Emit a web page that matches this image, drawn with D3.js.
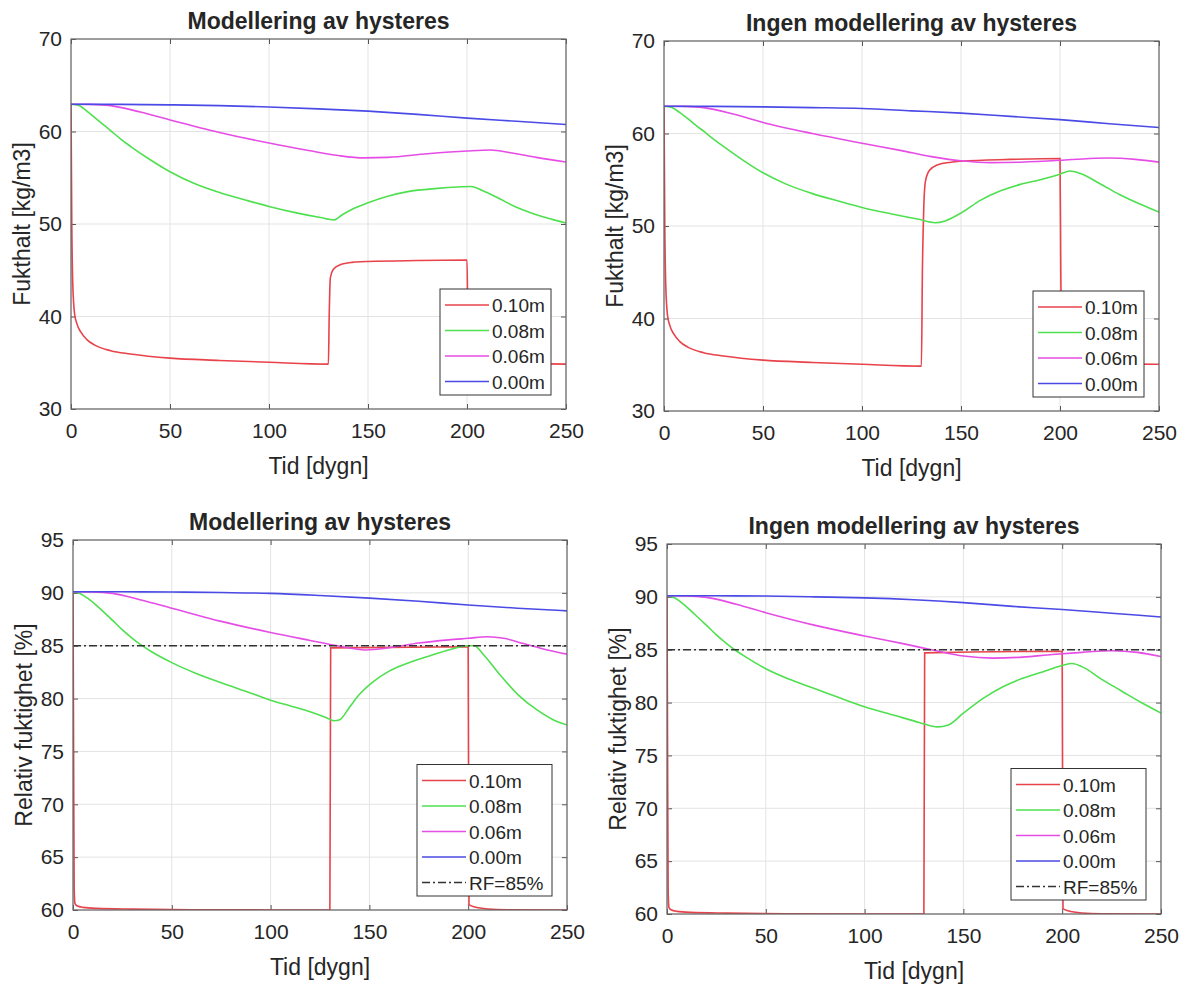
<!DOCTYPE html>
<html>
<head>
<meta charset="utf-8">
<script src="https://cdn.jsdelivr.net/npm/d3@7"></script>
<style>
  body { margin: 0; background: #fff; }
  svg text { font-family: "Liberation Sans", Arial, sans-serif; fill: #262626; }
</style>
</head>
<body>
<svg id="chart" width="1185" height="985"></svg>
<script>

// x ticks (days) and y ticks
const dayTicks = [0, 50, 100, 150, 200, 250]
const fuktTicks = [30, 40, 50, 60, 70]
const rfTicks = [60, 65, 70, 75, 80, 85, 90, 95]

const seriesNames = ["0.10m", "0.08m", "0.06m", "0.00m"]
const seriesColors = ["#e8434a", "#4fe04f", "#e64ce6", "#4a4ae6"]
const rfLimit = 85
const rfName = "RF=85%"

// Fukthalt, modellering av hysteres  [dygn, kg/m3]
const fuktHystRed = [[0,63],[0.4,50],[0.9,43.5],[1.8,40.3],[3,39.2],[5,38.3],[8,37.5],[12,36.9],[20,36.3],[30,35.95],[50,35.5],[75,35.25],[100,35.05],[130,34.85],[130.4,40],[131,44.2],[132.5,45.1],[136,45.6],[142,45.85],[150,45.95],[175,46.05],[200,46.1],[200.4,40],[201,36.5],[204,35.4],[215,35.0],[250,34.85]]
const fuktHystGreen = [[0,62.95],[4,62.8],[8,62.2],[12,61.5],[16,60.8],[20,60.1],[25,59.2],[30,58.4],[40,56.95],[50,55.65],[62,54.4],[75,53.4],[88,52.6],[100,51.9],[115,51.15],[126,50.7],[133,50.45],[137,51.0],[142,51.6],[150,52.3],[160,53.0],[170,53.5],[185,53.85],[195,54.0],[202,54.05],[208,53.6],[215,52.9],[225,51.8],[235,51.0],[243,50.5],[250,50.1]]
const fuktHystMagenta = [[0,62.95],[10,62.93],[20,62.8],[35,62.1],[50,61.25],[75,59.9],[100,58.75],[120,57.95],[135,57.4],[148,57.15],[160,57.2],[180,57.6],[200,57.9],[212,58.0],[222,57.7],[235,57.2],[250,56.7]]
const fuktHystBlue = [[0,62.95],[25,62.93],[50,62.88],[75,62.8],[100,62.65],[125,62.45],[150,62.2],[175,61.85],[200,61.45],[225,61.1],[250,60.75]]

// Fukthalt, ingen modellering av hysteres
const fuktNoRed = [[0,63],[0.4,50],[0.9,43.5],[1.8,40.3],[3,39.2],[5,38.3],[8,37.5],[12,36.9],[20,36.3],[30,35.95],[50,35.5],[75,35.25],[100,35.05],[130,34.85],[130.5,45],[131.2,52],[132,54.8],[134,56.0],[138,56.6],[145,56.9],[150,57.0],[175,57.2],[200,57.3],[200.4,45],[201,37],[204,35.5],[215,35.15],[250,35.05]]
const fuktNoGreen = [[0,62.95],[4,62.8],[8,62.25],[12,61.6],[16,60.9],[20,60.25],[25,59.4],[30,58.6],[40,57.1],[50,55.75],[62,54.5],[75,53.5],[88,52.7],[100,52.0],[115,51.3],[128,50.75],[137,50.35],[142,50.55],[150,51.4],[160,52.8],[170,53.8],[180,54.5],[190,55.0],[200,55.6],[205,55.95],[210,55.7],[220,54.6],[230,53.4],[240,52.4],[250,51.5]]
const fuktNoMagenta = [[0,62.95],[10,62.93],[20,62.8],[35,62.1],[50,61.2],[75,60.0],[100,58.95],[120,58.15],[135,57.5],[150,57.05],[165,56.85],[180,56.9],[200,57.1],[215,57.3],[225,57.35],[238,57.2],[250,56.9]]
const fuktNoBlue = [[0,62.95],[25,62.93],[50,62.88],[75,62.8],[100,62.7],[125,62.45],[150,62.2],[175,61.85],[200,61.5],[225,61.05],[250,60.65]]

// Relativ fuktighet, modellering av hysteres  [dygn, %]
const rfHystRed = [[0,90.1],[0.3,75],[0.6,62],[1,60.6],[2,60.4],[5,60.25],[12,60.15],[30,60.08],[60,60.03],[130,60.0],[130.4,84.8],[200,84.9],[200.4,60.5],[203,60.3],[210,60.1],[220,60.03],[250,60.0]]
const rfHystGreen = [[0,90.1],[4,89.9],[8,89.4],[12,88.8],[16,88.1],[20,87.4],[25,86.5],[30,85.7],[35,85.0],[40,84.4],[50,83.4],[62,82.4],[75,81.5],[88,80.65],[100,79.85],[110,79.3],[120,78.75],[128,78.2],[132,77.9],[135,78.0],[140,79.2],[145,80.4],[152,81.6],[160,82.6],[170,83.4],[180,84.0],[190,84.6],[200,85.0],[203,85.0],[208,84.1],[215,82.5],[225,80.4],[235,78.9],[243,78.0],[250,77.5]]
const rfHystMagenta = [[0,90.1],[10,90.08],[20,89.95],[35,89.3],[50,88.55],[75,87.3],[100,86.25],[120,85.5],[135,84.95],[148,84.6],[160,84.8],[175,85.25],[190,85.55],[200,85.7],[210,85.85],[218,85.7],[228,85.2],[240,84.6],[250,84.2]]
const rfHystBlue = [[0,90.1],[25,90.1],[50,90.08],[75,90.03],[100,89.95],[125,89.75],[150,89.5],[175,89.2],[200,88.85],[225,88.55],[250,88.3]]

// Relativ fuktighet, ingen modellering av hysteres
const rfNoRed = [[0,90.1],[0.3,75],[0.6,62],[1,60.6],[2,60.4],[5,60.25],[12,60.15],[30,60.08],[60,60.03],[130,60.0],[130.4,84.7],[200,84.85],[200.4,60.5],[203,60.3],[210,60.1],[220,60.03],[250,60.0]]
const rfNoGreen = [[0,90.1],[4,89.9],[8,89.35],[12,88.7],[16,88.0],[20,87.3],[25,86.4],[30,85.6],[35,84.9],[40,84.3],[50,83.2],[62,82.2],[75,81.3],[88,80.4],[100,79.6],[115,78.8],[128,78.1],[137,77.7],[142,77.85],[150,79.0],[160,80.4],[170,81.5],[180,82.3],[190,82.9],[200,83.5],[205,83.7],[210,83.4],[220,82.2],[230,81.1],[240,80.0],[250,79.0]]
const rfNoMagenta = [[0,90.1],[10,90.08],[20,89.95],[35,89.3],[50,88.5],[75,87.3],[100,86.3],[120,85.55],[135,84.95],[150,84.4],[165,84.2],[180,84.3],[195,84.55],[210,84.75],[225,84.9],[238,84.75],[250,84.35]]
const rfNoBlue = [[0,90.1],[25,90.1],[50,90.08],[75,90.0],[100,89.9],[125,89.72],[150,89.45],[175,89.1],[200,88.8],[225,88.45],[250,88.1]]

const svg = d3.select("#chart")

function drawPanel(opts) {
  const { left, top, width, height, title, yLabel, yDomain, yTicks, series, rf, id } = opts

  const x = d3.scaleLinear().domain([0, 250]).range([0, width])
  const y = d3.scaleLinear().domain(yDomain).range([height, 0])

  const g = svg.append("g").attr("transform", `translate(${left},${top})`)

  g.append("clipPath").attr("id", "clip-" + id)
    .append("rect").attr("width", width).attr("height", height)

  // grid
  g.append("g").selectAll("line")
    .data(dayTicks)
    .join("line")
      .attr("x1", d => x(d)).attr("x2", d => x(d))
      .attr("y1", 0).attr("y2", height)
      .attr("stroke", "#e3e3e3")
  g.append("g").selectAll("line")
    .data(yTicks)
    .join("line")
      .attr("y1", d => y(d)).attr("y2", d => y(d))
      .attr("x1", 0).attr("x2", width)
      .attr("stroke", "#e3e3e3")

  // axes (ticks inside, labels outside)
  g.append("g").attr("transform", `translate(0,${height})`)
    .call(d3.axisBottom(x).tickValues(dayTicks).tickSize(-5).tickPadding(14))
  g.append("g")
    .call(d3.axisLeft(y).tickValues(yTicks).tickSize(-5).tickPadding(9))
  g.append("g").call(d3.axisTop(x).tickValues(dayTicks).tickSize(-5).tickFormat(""))
  g.append("g").attr("transform", `translate(${width},0)`)
    .call(d3.axisRight(y).tickValues(yTicks).tickSize(-5).tickFormat(""))

  g.selectAll(".domain").attr("stroke", "none")
  g.selectAll(".tick line").attr("stroke", "#555")
  g.selectAll(".tick text").attr("font-size", 21).attr("fill", "#262626")
    .attr("font-family", '"Liberation Sans", Arial, sans-serif')

  // lines
  const line = d3.line()
    .x(d => x(d[0]))
    .y(d => y(d[1]))
    .curve(d3.curveMonotoneX)

  const plot = g.append("g").attr("clip-path", `url(#clip-${id})`)
  series.forEach((s, i) => {
    plot.append("path")
      .datum(s)
      .attr("d", line)
      .attr("fill", "none")
      .attr("stroke", seriesColors[i])
      .attr("stroke-width", 1.6)
  })

  if (rf) {
    plot.append("line")
      .attr("x1", 0).attr("x2", width)
      .attr("y1", y(rfLimit)).attr("y2", y(rfLimit))
      .attr("stroke", "#333")
      .attr("stroke-width", 1.4)
      .attr("stroke-dasharray", "8,3,2,3")
  }

  // box
  g.append("rect")
    .attr("width", width).attr("height", height)
    .attr("fill", "none").attr("stroke", "#666").attr("stroke-width", 1.2)

  // titles
  g.append("text")
    .attr("x", width / 2).attr("y", -10)
    .attr("text-anchor", "middle")
    .attr("font-size", 23).attr("font-weight", "bold")
    .text(title)
  g.append("text")
    .attr("x", width / 2).attr("y", height + 65)
    .attr("text-anchor", "middle")
    .attr("font-size", 23)
    .text("Tid [dygn]")
  g.append("text")
    .attr("transform", `translate(${-41},${height / 2}) rotate(-90)`)
    .attr("text-anchor", "middle")
    .attr("font-size", 23)
    .text(yLabel)

  // legend
  const names = rf ? seriesNames.concat([rfName]) : seriesNames
  const legW = rf ? 135 : 111
  const rowH = 25.5
  const legH = names.length * rowH + 4
  const lg = g.append("g")
    .attr("transform", `translate(${width - 15 - legW},${height - 14 - legH})`)
  lg.append("rect")
    .attr("width", legW).attr("height", legH)
    .attr("fill", "#fff").attr("stroke", "#333").attr("stroke-width", 1)
  names.forEach((n, i) => {
    const cy = 16 + i * rowH
    const isRf = i === seriesNames.length
    lg.append("line")
      .attr("x1", 5).attr("x2", 49)
      .attr("y1", cy).attr("y2", cy)
      .attr("stroke", isRf ? "#333" : seriesColors[i])
      .attr("stroke-width", isRf ? 1.4 : 1.6)
      .attr("stroke-dasharray", isRf ? "8,3,2,3" : null)
    lg.append("text")
      .attr("x", 52).attr("y", cy + 7)
      .attr("font-size", 19)
      .text(n)
  })
}

drawPanel({
  id: "p1", left: 71, top: 39, width: 495, height: 370,
  title: "Modellering av hysteres", yLabel: "Fukthalt [kg/m3]",
  yDomain: [30, 70], yTicks: fuktTicks,
  series: [fuktHystRed, fuktHystGreen, fuktHystMagenta, fuktHystBlue], rf: false
})
drawPanel({
  id: "p2", left: 664, top: 41, width: 495, height: 370,
  title: "Ingen modellering av hysteres", yLabel: "Fukthalt [kg/m3]",
  yDomain: [30, 70], yTicks: fuktTicks,
  series: [fuktNoRed, fuktNoGreen, fuktNoMagenta, fuktNoBlue], rf: false
})
drawPanel({
  id: "p3", left: 73, top: 540, width: 494, height: 370,
  title: "Modellering av hysteres", yLabel: "Relativ fuktighet [%]",
  yDomain: [60, 95], yTicks: rfTicks,
  series: [rfHystRed, rfHystGreen, rfHystMagenta, rfHystBlue], rf: true
})
drawPanel({
  id: "p4", left: 667, top: 544, width: 494, height: 370,
  title: "Ingen modellering av hysteres", yLabel: "Relativ fuktighet [%]",
  yDomain: [60, 95], yTicks: rfTicks,
  series: [rfNoRed, rfNoGreen, rfNoMagenta, rfNoBlue], rf: true
})

</script>
</body>
</html>
